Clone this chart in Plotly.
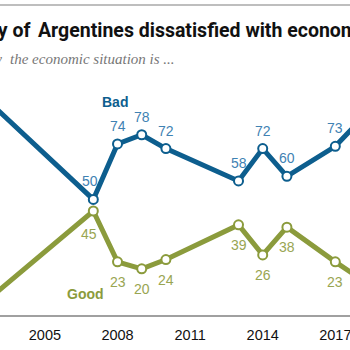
import plotly.graph_objects as go

years = [2002, 2007, 2008, 2009, 2010, 2013, 2014, 2015, 2017, 2018]
bad = [99, 50, 74, 78, 72, 58, 72, 60, 73, 84]
good = [1, 45, 23, 20, 24, 39, 26, 38, 23, 16]
tick_years = [2005, 2008, 2011, 2014, 2017]
tick_labels = ["2005", "2008", "2011", "2014", "2017"]

title_left = "Large majority of"
title_right = "Argentines dissatisfied with economy"
subtitle_left = "% who say"
subtitle_right = "the economic situation is ..."

BAD_LINE = "#0d5e8e"
BAD_TEXT = "#3f82b3"
GOOD_LINE = "#8b9b3c"
GOOD_TEXT = "#99a552"

fig = go.Figure()
fig.add_trace(go.Scatter(
    x=years, y=bad, mode="lines+markers",
    line=dict(color=BAD_LINE, width=5),
    marker=dict(size=9, color="white", line=dict(color=BAD_LINE, width=2)),
    hoverinfo="skip"))
fig.add_trace(go.Scatter(
    x=years, y=good, mode="lines+markers",
    line=dict(color=GOOD_LINE, width=5),
    marker=dict(size=9, color="white", line=dict(color=GOOD_LINE, width=2)),
    hoverinfo="skip"))

ann = []
num_font = "Liberation Sans, Arial, sans-serif"
for i, (yr, b, g) in enumerate(zip(years, bad, good)):
    if i == 0 or i == len(years) - 1:
        continue
    ann.append(dict(x=yr, y=b, xref="x", yref="y", text=str(b), showarrow=False,
                    yshift=18, xshift=-3 if b == 50 else 0,
                    font=dict(family=num_font, size=14, color=BAD_TEXT)))
    ann.append(dict(x=yr, y=g, xref="x", yref="y", text=str(g), showarrow=False,
                    yshift=-20 if g != 45 else -23, xshift=-4 if g == 45 else 0,
                    font=dict(family=num_font, size=14, color=GOOD_TEXT)))

ann.append(dict(x=2007.9, y=92, xref="x", yref="y", text="<b>Bad</b>", showarrow=False,
                font=dict(family=num_font, size=14, color=BAD_LINE)))
ann.append(dict(x=2006.66, y=9.3, xref="x", yref="y", text="<b>Good</b>", showarrow=False,
                font=dict(family=num_font, size=14, color=GOOD_LINE)))

title_font = dict(family="Roboto, Liberation Sans, sans-serif", size=19.5, color="#111111")
ann.append(dict(x=32 / 350, y=1 - 30 / 315, xref="paper", yref="paper", xanchor="right",
                yanchor="middle", text="<b>" + title_left + "</b>", showarrow=False, font=title_font))
ann.append(dict(x=36 / 350, y=1 - 30 / 315, xref="paper", yref="paper", xanchor="left",
                yanchor="middle", text="<b>" + title_right + "</b>", showarrow=False, font=title_font))
sub_font = dict(family="Liberation Serif, Georgia, serif", size=15, color="#777777")
ann.append(dict(x=4 / 350, y=1 - 59 / 315, xref="paper", yref="paper", xanchor="right",
                yanchor="middle", text="<i>" + subtitle_left + "</i>", showarrow=False, font=sub_font))
ann.append(dict(x=8 / 350, y=1 - 59 / 315, xref="paper", yref="paper", xanchor="left",
                yanchor="middle", text="<i>" + subtitle_right + "</i>", showarrow=False, font=sub_font))

fig.update_layout(
    width=350, height=350,
    margin=dict(l=0, r=0, t=0, b=35),
    paper_bgcolor="white", plot_bgcolor="white",
    showlegend=False,
    annotations=ann,
    shapes=[dict(type="line", xref="paper", yref="paper", x0=0, x1=1,
                 y0=1 - 5 / 315, y1=1 - 5 / 315, line=dict(color="#a8a8a8", width=1.5))],
    xaxis=dict(range=[2003.144, 2017.607], showgrid=False, zeroline=False,
               showline=True, linecolor="#a0a0a0", linewidth=1.5,
               tickmode="array", tickvals=tick_years, ticktext=tick_labels,
               ticks="", ticklabelstandoff=6, ticklabeloverflow="allow",
               tickfont=dict(family=num_font, size=14.5, color="#111111")),
    yaxis=dict(range=[0, 136.3], showgrid=False, zeroline=False, showline=False,
               showticklabels=False, ticks=""),
)

fig.write_html("out.html")
